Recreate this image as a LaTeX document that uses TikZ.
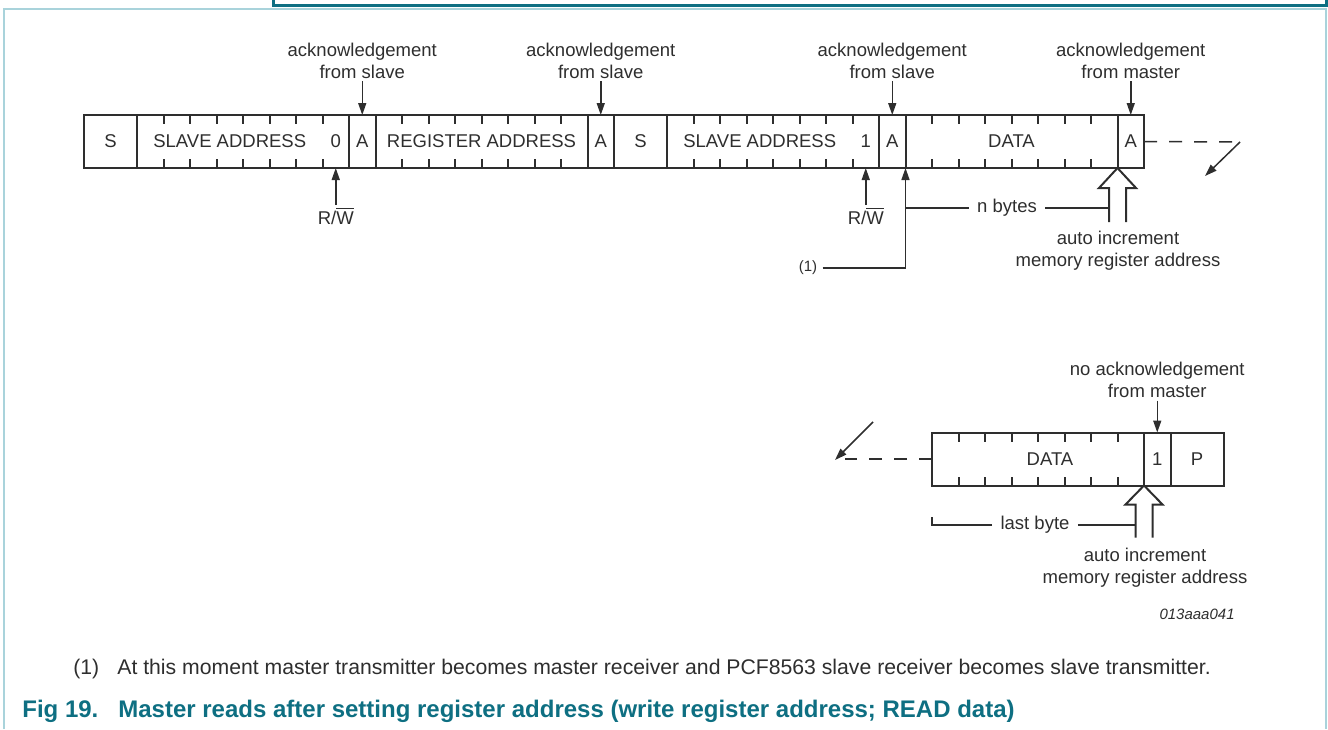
\documentclass[tikz,border=0pt]{standalone}
\usepackage{fontspec}
\setmainfont{Liberation Sans}
\usepackage{tikz}
\usetikzlibrary{arrows.meta,positioning,calc}
\definecolor{nxpteal}{HTML}{0E6F82}
\definecolor{framelight}{HTML}{A9D3DB}
\definecolor{inkdark}{HTML}{2E2E2E}
\newcommand{\bitw}{13.25pt}

\begin{document}
\begin{tikzpicture}[
  x=0.5pt, y=-0.5pt,
  font=\fontsize{9.25pt}{11pt}\selectfont,
  field/.style={draw=inkdark, line width=1pt, minimum height=26.5pt,
                minimum width=#1*\bitw, inner sep=0pt, outer sep=0pt,
                anchor=west, text=inkdark},
  lbl/.style={align=center, inner sep=1pt, text=inkdark},
  tick/.style={line width=1pt, draw=inkdark},
  arr/.style={-{Triangle[length=6pt,width=4pt]}, line width=0.75pt, draw=inkdark},
  plain/.style={line width=0.75pt, draw=inkdark},
  cont/.style={plain, dash pattern=on 6.5pt off 6pt},
  hollow/.style={line width=1pt, draw=inkdark, line join=miter}
]
\useasboundingbox (0,0) rectangle (1328,729);
% page frame
\draw[framelight, line width=1.2pt] (4,729) -- (4,9) -- (1326,9) -- (1326,729);
\draw[nxpteal, line width=1.5pt] (273,0) -- (273,5) -- (1326,5) -- (1326,0);

% first row: write register address, then read
\node[field=2] (s1) at (84,141.5) {S};
\node[field=8, right=0pt of s1] (sa1) {};
\node[field=1, right=0pt of sa1] (a1) {A};
\node[field=8, right=0pt of a1] (ra) {REGISTER ADDRESS};
\node[field=1, right=0pt of ra] (a2) {A};
\node[field=2, right=0pt of a2] (s2) {S};
\node[field=8, right=0pt of s2] (sa2) {};
\node[field=1, right=0pt of sa2] (a3) {A};
\node[field=8, right=0pt of a3] (d1) {DATA};
\node[field=1, right=0pt of d1] (a4) {A};

\node[lbl] (sa1txt) at ([xshift=-\bitw/2]sa1.center) {SLAVE ADDRESS};
\node[lbl] (rwbit1) at ([xshift=-\bitw/2]sa1.east) {0};
\node[lbl] (sa2txt) at ([xshift=-\bitw/2]sa2.center) {SLAVE ADDRESS};
\node[lbl] (rwbit2) at ([xshift=-\bitw/2]sa2.east) {1};

% second row: last byte and stop
\node[field=8] (d2) at (932,459) {};
\node[field=1, right=0pt of d2] (na) {1};
\node[field=2, right=0pt of na] (p) {P};
\node[lbl] (d2txt) at ([xshift=6pt]d2.center) {DATA};

% bit ticks
\foreach \f in {sa1,ra,sa2,d1,d2}
  \foreach \i in {1,...,7} {
    \draw[tick] ([xshift=\i*\bitw]\f.north west) -- ++(0,9);
    \draw[tick] ([xshift=\i*\bitw]\f.south west) -- ++(0,-9);
  }

% acknowledge labels
\node[lbl, above=17pt of a1] (ack1) {acknowledgement\\from slave};
\node[lbl, above=17pt of a2] (ack2) {acknowledgement\\from slave};
\node[lbl, above=17pt of a3] (ack3) {acknowledgement\\from slave};
\node[lbl, above=17pt of a4] (ack4) {acknowledgement\\from master};
\node[lbl, above=16pt of na] (noack) {no acknowledgement\\from master};
\draw[arr] (ack1) -- (a1);
\draw[arr] (ack2) -- (a2);
\draw[arr] (ack3) -- (a3);
\draw[arr] (ack4) -- (a4);
\draw[arr] (noack) -- (na);

% read/write bits
\coordinate (rwpt1) at (rwbit1 |- sa1.south);
\coordinate (rwpt2) at (rwbit2 |- sa2.south);
\node[lbl, below=18.5pt of rwpt1] (rw1) {R/$\overline{\mbox{W}}$};
\node[lbl, below=18.5pt of rwpt2] (rw2) {R/$\overline{\mbox{W}}$};
\draw[arr] (rw1) -- (rwpt1);
\draw[arr] (rw2) -- (rwpt2);

% direction change
\node[lbl, font=\fontsize{7.5pt}{9pt}\selectfont, inner sep=2.5pt] (note1) at (808,268) {(1)};
\draw[arr] (note1.east) -| (d1.south west);

% auto increment arrows
\draw[hollow] (d1.south east) -- ++(-18.5,20) -- ++(10,0) -- ++(0,34) coordinate (shaft1);
\draw[hollow] (d1.south east) -- ++(18.5,20) -- ++(-10,0) -- ++(0,34);
\draw[hollow] (d2.south east) -- ++(-18.5,19) -- ++(10,0) -- ++(0,33) coordinate (shaft2);
\draw[hollow] (d2.south east) -- ++(18.5,19) -- ++(-10,0) -- ++(0,33);
\node[lbl] (inc1) at (1118,251) {auto increment\\memory register address};
\node[lbl] (inc2) at (1145,567.5) {auto increment\\memory register address};

% byte counts
\node[lbl, inner sep=4pt] (nbytes) at (1007,208) {n bytes};
\draw[plain] (nbytes.west) -- (nbytes.west -| d1.south west);
\draw[plain] (nbytes.east) -- (nbytes.east -| shaft1);
\node[lbl, inner sep=4pt] (lastb) at (1035,525) {last byte};
\draw[plain] (lastb.west) -- (lastb.west -| d2.south west) -- ++(0,-8);
\draw[plain] (lastb.east) -- (lastb.east -| shaft2);

% continuation
\coordinate (cont1) at (1240,142);
\coordinate (cont1end) at (1205,176);
\draw[cont] (a4) -- (cont1);
\draw[arr] (cont1) -- (cont1end);
\coordinate (cont2) at (845,459);
\coordinate (cont2beg) at (873,422);
\coordinate (cont2end) at (835,460);
\draw[cont] (d2) -- (cont2);
\draw[arr] (cont2beg) -- (cont2end);

\node[lbl, anchor=base east, font=\fontsize{7.5pt}{9pt}\selectfont\itshape] (figid) at (1237,619) {013aaa041};

% footnote and caption
\node[lbl, anchor=base west, inner sep=0pt, font=\fontsize{10.6pt}{12pt}\selectfont] (fnmark) at (73,674.5) {(1)};
\node[lbl, anchor=base west, inner sep=0pt, font=\fontsize{10.6pt}{12pt}\selectfont] (fntext) at (117,674.5)
  {At this moment master transmitter becomes master receiver and PCF8563 slave receiver becomes slave transmitter.};
\node[anchor=base west, inner sep=0pt, text=nxpteal, font=\fontsize{12pt}{14pt}\selectfont\bfseries] (figno) at (22,717.5) {Fig 19.};
\node[anchor=base west, inner sep=0pt, text=nxpteal, font=\fontsize{12pt}{14pt}\selectfont\bfseries] (figtitle) at (118,717.5)
  {Master reads after setting register address (write register address; READ data)};
\end{tikzpicture}
\end{document}
